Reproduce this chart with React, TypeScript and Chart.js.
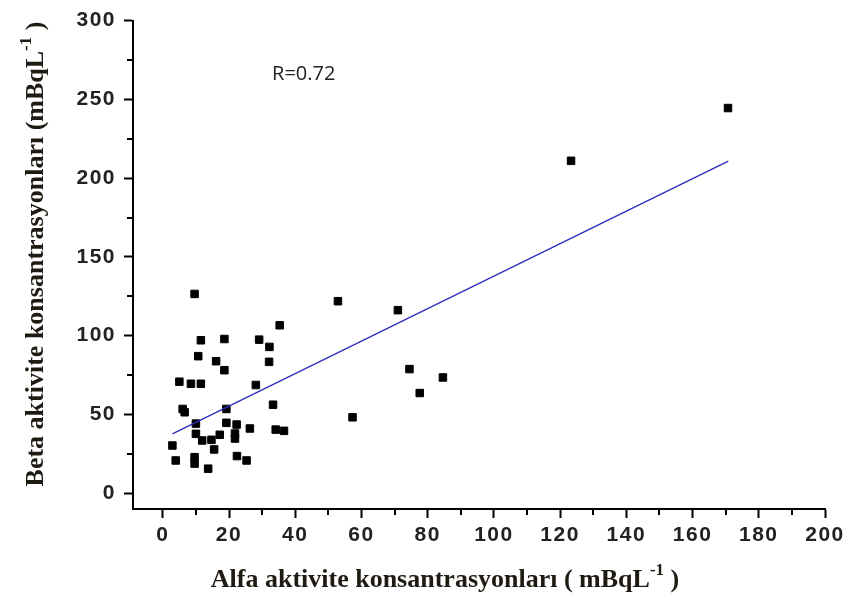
import React, { useEffect, useRef } from "react";
import { Chart, registerables } from "chart.js";

Chart.register(...registerables);

// Alfa (x) and Beta (y) activity concentrations, mBqL-1
const alfaValues = [
  170.7, 123.3, 52.9, 71.0, 74.5, 84.6, 77.6, 57.3,
  9.6, 35.3, 11.5, 18.6, 29.1, 32.2, 10.7, 16.1, 32.1, 18.6,
  5.0, 8.5, 11.5, 28.1, 6.0, 6.6, 19.2, 33.3,
  10.0, 19.2, 22.3, 26.3, 34.1, 36.6, 10.0, 21.8, 21.8,
  11.9, 14.7, 17.2, 2.9, 15.5, 3.9, 9.6, 9.6, 22.4, 25.3, 13.7,
];
const betaValues = [
  244.5, 211.0, 121.9, 116.2, 78.8, 73.5, 63.6, 48.2,
  126.5, 106.6, 97.1, 97.9, 97.5, 92.9, 87.0, 83.8, 83.4, 78.1,
  70.8, 69.5, 69.5, 68.7, 53.5, 51.4, 53.5, 56.2,
  44.2, 44.7, 43.6, 41.1, 40.4, 39.6, 37.7, 37.9, 34.7,
  33.5, 33.9, 37.1, 30.3, 27.8, 20.8, 22.9, 18.8, 23.6, 20.8, 15.6,
];

// Linear fit line end points
const fitX = [2.9, 170.8];
const fitY = [37.7, 210.8];

const xTickValues = [0, 20, 40, 60, 80, 100, 120, 140, 160, 180, 200];
const yTickValues = [0, 50, 100, 150, 200, 250, 300];
const xMinorTicks = [10, 30, 50, 70, 90, 110, 130, 150, 170, 190];
const yMinorTicks = [25, 75, 125, 175, 225, 275];

const rText = "R=0.72";
const xTitle = "Alfa aktivite konsantrasyonları ( mBqL";
const xTitleEnd = " )";
const yTitle = "Beta aktivite konsantrasyonları (mBqL";
const yTitleEnd = " )";
const supText = "-1";

const TITLE_COLOR = "#1f1a12";
const TITLE_FONT = "bold 26px 'Liberation Serif'";
const SUP_FONT = "bold 17px 'Liberation Serif'";

function drawTitleWithSup(ctx: CanvasRenderingContext2D, main: string, end: string, cx: number, cy: number) {
  ctx.font = TITLE_FONT;
  const w1 = ctx.measureText(main).width;
  ctx.font = SUP_FONT;
  const w2 = ctx.measureText(supText).width;
  ctx.font = TITLE_FONT;
  const w3 = ctx.measureText(end).width;
  const total = w1 + w2 + w3;
  let x = cx - total / 2;
  ctx.textAlign = "left";
  ctx.textBaseline = "middle";
  ctx.fillStyle = TITLE_COLOR;
  ctx.font = TITLE_FONT;
  ctx.fillText(main, x, cy);
  x += w1;
  ctx.font = SUP_FONT;
  ctx.fillText(supText, x, cy - 9);
  x += w2;
  ctx.font = TITLE_FONT;
  ctx.fillText(end, x, cy);
}

const decorPlugin = {
  id: "decor",
  beforeDraw(chart: any) {
    (chart.ctx as any).letterSpacing = "1.5px";
  },
  afterDraw(chart: any) {
    const ctx: CanvasRenderingContext2D = chart.ctx;
    (ctx as any).letterSpacing = "0px";
    const xs = chart.scales.x;
    const ys = chart.scales.y;
    const area = chart.chartArea;
    ctx.save();
    // minor ticks
    ctx.strokeStyle = "#000";
    ctx.lineWidth = 2;
    ctx.beginPath();
    for (const v of xMinorTicks) {
      const px = Math.round(xs.getPixelForValue(v));
      ctx.moveTo(px, area.bottom);
      ctx.lineTo(px, area.bottom + 6);
    }
    for (const v of yMinorTicks) {
      const py = Math.round(ys.getPixelForValue(v));
      ctx.moveTo(area.left, py);
      ctx.lineTo(area.left - 6, py);
    }
    ctx.stroke();

    // R text
    ctx.fillStyle = "#222";
    ctx.font = "20px 'Open Sans'";
    ctx.textAlign = "left";
    ctx.textBaseline = "middle";
    ctx.fillText(rText, xs.getPixelForValue(33.0), ys.getPixelForValue(266));

    // axis titles
    drawTitleWithSup(ctx, xTitle, xTitleEnd, 445, 580);
    ctx.save();
    ctx.translate(36, 254);
    ctx.rotate(-Math.PI / 2);
    drawTitleWithSup(ctx, yTitle, yTitleEnd, 0, 0);
    ctx.restore();
    ctx.restore();
  },
};

export default function App() {
  const ref = useRef<HTMLCanvasElement | null>(null);
  useEffect(() => {
    if (!ref.current) return;
    const points = alfaValues.map((x, i) => ({ x, y: betaValues[i] }));
    const line = fitX.map((x, i) => ({ x, y: fitY[i] }));
    const tickFont = { family: "'Liberation Sans', Arial", size: 21, weight: "bold" as const };
    const chart = new Chart(ref.current, {
      type: "scatter",
      data: {
        datasets: [
          {
            type: "line",
            data: line,
            borderColor: "#2c2cc0",
            borderWidth: 1.3,
            pointRadius: 0,
            showLine: true,
            fill: false,
          } as any,
          {
            data: points,
            pointStyle: "rect",
            pointRadius: 5.3,
            backgroundColor: "#000",
            borderColor: "#000",
            borderWidth: 1,
          },
        ],
      },
      options: {
        animation: false,
        responsive: true,
        maintainAspectRatio: false,
        layout: { padding: { left: 0, right: 25, top: 18, bottom: 0 } },
        plugins: { legend: { display: false }, tooltip: { enabled: false }, title: { display: false } },
        scales: {
          x: {
            type: "linear",
            min: -9,
            max: 200,
            afterBuildTicks: (s: any) => {
              s.ticks = xTickValues.map((v) => ({ value: v }));
            },
            afterFit: (s: any) => {
              s.height = 89;
            },
            ticks: { stepSize: 20, includeBounds: false, font: tickFont, color: "#222", padding: 5, maxRotation: 0 },
            grid: { display: true, drawOnChartArea: false, drawTicks: true, tickLength: 9, tickWidth: 2, tickColor: "#000" },
            border: { display: true, color: "#000", width: 2 },
          },
          y: {
            type: "linear",
            min: -10,
            max: 300,
            afterBuildTicks: (s: any) => {
              s.ticks = yTickValues.map((v) => ({ value: v }));
            },
            afterFit: (s: any) => {
              s.width = 133;
            },
            ticks: { stepSize: 50, includeBounds: false, font: tickFont, color: "#222", padding: 8 },
            grid: { display: true, drawOnChartArea: false, drawTicks: true, tickLength: 9, tickWidth: 2, tickColor: "#000" },
            border: { display: true, color: "#000", width: 2 },
          },
        },
      },
      plugins: [decorPlugin],
    });
    return () => chart.destroy();
  }, []);
  return (
    <div style={{ position: "fixed", left: 0, top: 0, width: 850, height: 598, background: "#fff" }}>
      <canvas ref={ref} />
    </div>
  );
}
